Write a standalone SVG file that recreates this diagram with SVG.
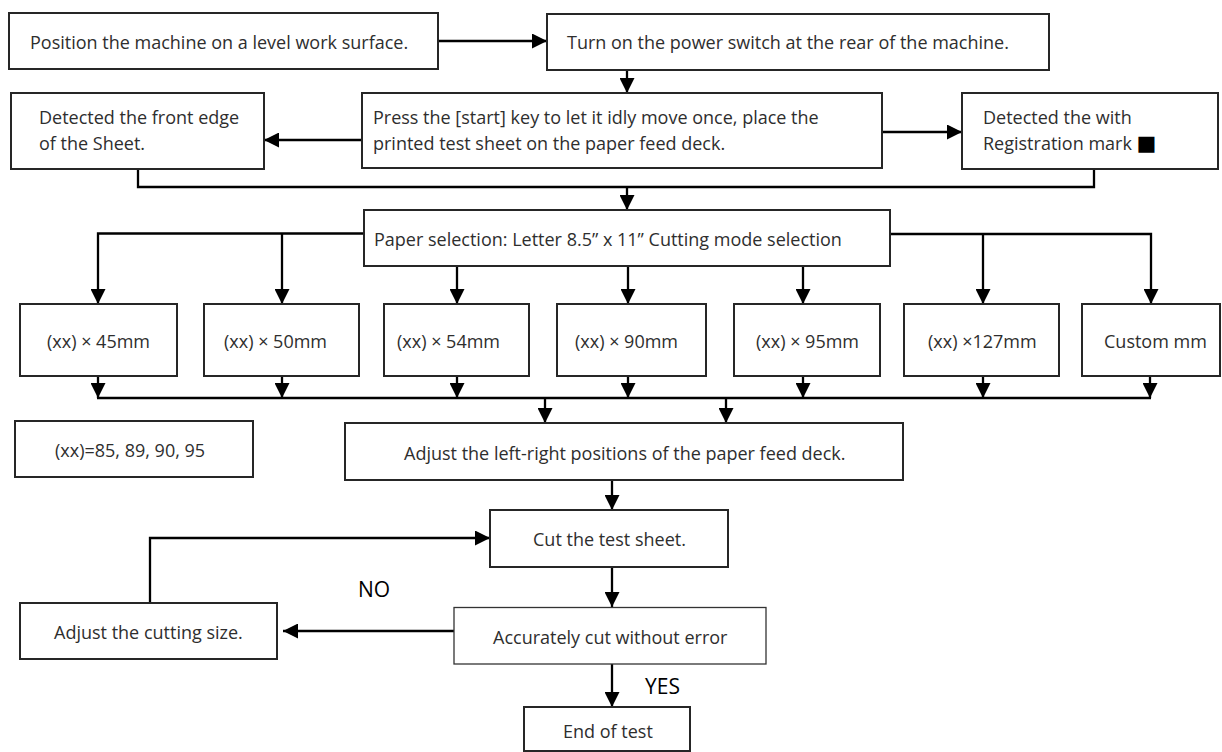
<svg xmlns="http://www.w3.org/2000/svg" width="1222" height="752" viewBox="0 0 1222 752">
<style>
.box{fill:#fff;stroke:#262626;stroke-width:2}
.thin{fill:#fff;stroke:#333;stroke-width:1.3}
.t{font-family:"Open Sans","Noto Sans",sans-serif;font-size:18px;fill:#2e2e2e}
.lbl{font-family:"Open Sans","Noto Sans",sans-serif;font-size:21px;fill:#000}
.sq{font-family:"DejaVu Sans",sans-serif;font-size:21px;fill:#000}
.c{fill:none;stroke:#000;stroke-width:2.3}
.a{marker-end:url(#ah)}
</style>
<defs>
<marker id="ah" markerUnits="userSpaceOnUse" markerWidth="15" markerHeight="15" refX="15" refY="7.5" orient="auto">
<path d="M0,0 L15,7.5 L0,15 Z" fill="#000"/>
</marker>
</defs>
<g id="connectors">
<path class="c a" d="M438,41 H547"/>
<path class="c a" d="M627,70 V93"/>
<path class="c a" d="M362,140 H264"/>
<path class="c a" d="M882,132 H962"/>
<path class="c" d="M138,169 V187 H1094 V169"/>
<path class="c a" d="M627,187 V210"/>
<path class="c a" d="M364,233.5 H98 V304"/>
<path class="c a" d="M282,233.5 V304"/>
<path class="c a" d="M457,266 V304"/>
<path class="c a" d="M628,266 V304"/>
<path class="c a" d="M803,266 V304"/>
<path class="c a" d="M890,234 H1151 V304"/>
<path class="c a" d="M983,234 V304"/>
<path class="c a" d="M98,376 V398"/>
<path class="c a" d="M282,376 V398"/>
<path class="c a" d="M457,376 V398"/>
<path class="c a" d="M628,376 V398"/>
<path class="c a" d="M803,376 V398"/>
<path class="c a" d="M983,376 V398"/>
<path class="c a" d="M1150,376 V398"/>
<path class="c" d="M97,398 H1151"/>
<path class="c a" d="M545,399 V423"/>
<path class="c a" d="M726,399 V423"/>
<path class="c a" d="M612,480 V510"/>
<path class="c a" d="M150,603 V538 H490"/>
<path class="c a" d="M612,567 V607"/>
<path class="c a" d="M454,631 H283"/>
<path class="c a" d="M612,664 V707"/>
</g>
<g id="n1"><rect class="box" x="9" y="13" width="429" height="56"/><text class="t" x="30" y="49">Position the machine on a level work surface.</text></g>
<g id="n2"><rect class="box" x="547" y="14" width="502" height="56"/><text class="t" x="567" y="49">Turn on the power switch at the rear of the machine.</text></g>
<g id="n3"><rect class="box" x="11" y="93" width="253" height="76"/><text class="t" x="39" y="124">Detected the front edge</text><text class="t" x="39" y="149.6">of the Sheet.</text></g>
<g id="n4"><rect class="box" x="362" y="93" width="520" height="75"/><text class="t" x="373" y="124">Press the [start] key to let it idly move once, place the</text><text class="t" x="373" y="149.6">printed test sheet on the paper feed deck.</text></g>
<g id="n5"><rect class="box" x="962" y="93" width="256" height="76"/><text class="t" x="983" y="124">Detected the with</text><text class="t" x="983" y="149.6">Registration mark <tspan class="sq">■</tspan></text></g>
<g id="n6"><rect class="box" x="364" y="210" width="526" height="56"/><text class="t" x="374" y="246.3">Paper selection: Letter 8.5” x 11” Cutting mode selection</text></g>
<g id="s1"><rect class="box" x="20" y="304" width="157" height="72"/><text class="t" x="47" y="348">(xx) × 45mm</text></g>
<g id="s2"><rect class="box" x="204" y="304" width="155" height="72"/><text class="t" x="224" y="348">(xx) × 50mm</text></g>
<g id="s3"><rect class="box" x="384" y="304" width="145" height="72"/><text class="t" x="397" y="348">(xx) × 54mm</text></g>
<g id="s4"><rect class="box" x="557" y="304" width="149" height="72"/><text class="t" x="575" y="348">(xx) × 90mm</text></g>
<g id="s5"><rect class="box" x="734" y="304" width="146" height="72"/><text class="t" x="756" y="348">(xx) × 95mm</text></g>
<g id="s6"><rect class="box" x="904" y="304" width="155" height="72"/><text class="t" x="928" y="348">(xx) ×127mm</text></g>
<g id="s7"><rect class="box" x="1082" y="304" width="138" height="72"/><text class="t" x="1104" y="348">Custom mm</text></g>
<g id="n7"><rect class="box" x="15" y="421" width="238" height="56"/><text class="t" x="55" y="457.3">(xx)=85, 89, 90, 95</text></g>
<g id="n8"><rect class="box" x="345" y="423" width="558" height="57"/><text class="t" x="404" y="459.6">Adjust the left-right positions of the paper feed deck.</text></g>
<g id="n9"><rect class="box" x="490" y="510" width="238" height="57"/><text class="t" x="533" y="546.3">Cut the test sheet.</text></g>
<g id="n10"><rect class="thin" x="454" y="607.5" width="312" height="56.5"/><text class="t" x="493" y="643.6">Accurately cut without error</text></g>
<g id="n11"><rect class="box" x="20" y="603" width="257" height="56"/><text class="t" x="54" y="639">Adjust the cutting size.</text></g>
<g id="n12"><rect class="box" x="524" y="707" width="166" height="44"/><text class="t" x="563" y="738">End of test</text></g>
<text class="lbl" x="358" y="596.8">NO</text>
<text class="lbl" x="645" y="694.2">YES</text>
</svg>
